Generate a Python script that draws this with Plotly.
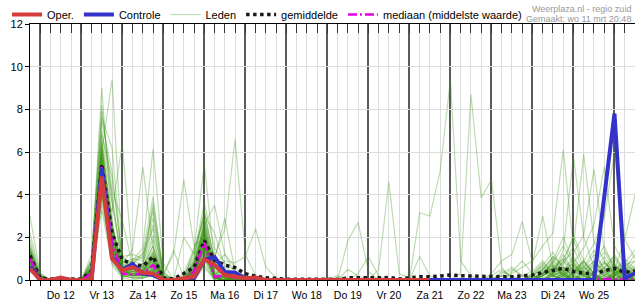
import pandas as pd
import plotly.graph_objects as go

# 6-hourly time steps, Wed 11 Mar 18:00 .. Thu 26 Mar 12:00
times = pd.date_range("2020-03-11 18:00", periods=60, freq="6h")

oper = [0.54,0,0,0.12,0,0,0, 4.85,1.0,0.46,0.6,0.34,0.3,
        0,0,0.08,0.15,0.97,0.7,0.23,0.15,0.08,0.12,
        0,0,0,0,0,0,0,0,0,0,0,0,0,0, 0,0,0]

controle = [0.62,0,0,0.05,0,0,0, 5.23,1.08,0.49,0.74,0.3,0.23,
            0,0,0,0.08,0.95,1.08,0.38,0.34,0.08,0.05,
            0,0,0,0,0,0,0,0,0,0,0,0,0,0,
            0,0,0,0,0,0,0,0,0,0,0,0,
            0,0,0,0,0,0,0,3.9,7.8,0.08,0.32]

gemiddelde = [1.15,0.08,0.05,0.05,0.05,0.05,0.4, 5.42,2.2,0.95,0.75,0.65,1.1,
              0.1,0.05,0.3,0.6,1.85,0.92,0.7,0.58,0.3,0.18,
              0.1,0.08,0.03,0.03,0.03,0.03,0.03,0.03,0.1,0.12,0.1,0.1,0.12,0.05,
              0.12,0.15,0.15,0.2,0.23,0.2,0.18,0.18,0.15,0.15,0.15,0.2,
              0.23,0.35,0.45,0.55,0.4,0.32,0.3,0.42,0.55,0.35,0.42]

mediaan = [1.0,0,0,0,0,0,0.3, 5.3,1.8,0.3,0.25,0.3,0.7,
           0,0,0.05,0.4,1.75,0.15,0.2,0.1,0.05,0,
           0,0,0,0,0,0,0,0,0,0,0,0,0,0,
           0,0,0,0,0,0,0,0,0,0,0,0,
           0,0,0,0,0,0,0.05,0.05,0.05,0,0]

leden = [
 [1.1,0.1,0,0,0,0,0.3, 5.2,1.8,0.3,0.2,0.3,0.8, 0,0,0,0.4,1.8,0.1,0.2,0,0,0, 0,0,0,0,0,0,0,0,0,0,0,0,0,0, 0,0,0,0,0,0,0,0,0,0,0,0, 0,0.1,0.3,0.6,0.2,0,0,0.1,0.4,0.2,0.1],
 [0.8,0,0,0,0,0,0.9, 9.0,2.5,0.6,0.2,0.4,1.2, 0,0,0,0.6,2.4,0.1,0,0.2,0,0, 0,0,0,0,0,0,0,0,0,0,0,0,0,0, 0,0,0,0,0,0,0,0,0,0.2,0,0, 0,0,0,0.3,0.8,0.2,0,0,0.3,0.6,0.2],
 [1.4,0.2,0,0,0,0,0.5, 6.0,9.4,1.2,0.3,0.2,0.6, 0,0,0,0.3,1.5,0.1,0,0,0,0, 0,0,0,0,0,0,0,0,0,0,0,0,0,0, 0,0,0,0,0,0,0,0,0,0,0,0, 0,0,0.2,0.5,1.1,0.3,0,0,0,0.2,0],
 [0.9,0,0,0,0,0,0.4, 4.6,3.2,6.4,0.8,0.2,0.5, 0,0,0,0.2,2.8,0.6,0.3,0,0,0, 0,0,0,0,0,0,0,0.2,0,0,0,0,0,0, 0,0,0,0,0,0,0,0,0,0,0,0, 0,0,0,0,0,0.4,0.9,0.3,0,0,0],
 [1.2,0.1,0,0,0,0,0.6, 5.8,2.2,0.8,1.4,5.3,1.5, 0.2,0,0,0.8,2.2,0.4,0.1,0,0,0, 0,0,0,0,0,0,0,0,0,0,0,0,0,0, 0,0,0,0,0,0,0,0,0,0,0,0, 0.1,0.3,0.7,0.2,0,0,0,0,0.2,0.5,0.3],
 [1.0,0,0,0,0,0,0.2, 4.2,1.2,0.4,0.9,1.5,6.15, 0.8,0,0,0.2,1.6,0.1,0,0,0,0, 0,0,0,0,0,0,0,0,0,0,0,0,0,0, 0,0,0,0,0,0,0,0,0,0,0,0, 0,0,0.2,0.4,0.1,0,0.3,0.8,0.4,0,0],
 [1.3,0.2,0,0,0,0,0.3, 5.5,1.9,0.5,0.2,0.3,0.9, 0.3,1.2,4.7,1.6,2.0,0.1,0.3,0.1,0,0, 0,0,0,0,0,0,0,0,0,0,0,0,0,0, 0,0,0,0,0,0,0,0,0,0,0,0, 0,0,0,0.2,0.6,0.2,0,0,0,0.1,0],
 [0.7,0,0,0,0,0,0.2, 6.2,2.6,0.3,0.5,0.4,1.1, 0,0,0.1,1.4,5.45,0.8,0.2,0,0,0, 0,0,0,0,0,0,0,0,0,0,0,0,0,0, 0,0,0,0,0,0,0,0,0,0,0,0, 0,0.2,0.5,0.2,0,0,0.1,0.4,1.0,0.3,0],
 [1.5,0.1,0,0,0,0,0.7, 4.0,1.4,0.2,0.6,0.3,0.4, 0,0,0,0.8,2.6,3.5,1.2,0.3,0,0, 0,0,0,0,0,0,0,0,0,0,0,0,0,0, 0,0,0,0,0,0,0,0,0,0,0,0, 0,0,0.3,1.2,0.4,0,0,0,0.2,0.6,0.2],
 [1.0,0,0,0,0,0,0.4, 5.0,2.0,0.5,0.4,0.3,0.9, 0,0,0,0.5,1.9,1.1,2.4,6.6,1.2,0.2, 0,0,0,0,0,0,0,0,0,0,0,0,0,0, 0,0,0,0,0,0,0,0,0,0,0,0, 0,0,0,0,0.3,0.7,0.2,0,0,0,0],
 [0.6,0,0,0,0,0,0.1, 4.8,1.5,0.3,0.3,0.2,0.5, 0,0,0,0.3,1.3,0.2,0.9,0.8,1.1,2.4, 0.6,0.1,0,0,0,0,0,0,0,0,0,0,0,0, 0,0,0,0,0,0,0,0,0,0,0,0, 0,0,0,0.1,0.4,0.9,0.3,0,0,0,0],
 [1.1,0,0,0,0,0,0.5, 5.6,2.1,0.6,0.2,0.4,1.3, 0,0,0,0.4,1.7,0.1,0,0,0,0, 0,0,0,0,0,0,0,0,1.85,2.7,0.4,0,0,0, 0,0,0,0,0,0,0,0,0,0,0,0, 0,0.2,0.6,0.3,0,0,0,0.3,0.7,0.2,0],
 [0.9,0.1,0,0,0,0,0.3, 6.5,2.8,0.4,0.7,0.5,1.0, 0,0,0,0.5,2.3,0.1,0,0,0,0, 0,0,0,0,0,0,0,0,0,0,0,0.5,4.6,0.3, 0.1,0,0,0,0,0,0,0,0,0,0,0, 0,0,0,0.2,0.5,0.1,0,0,0,0,0],
 [1.3,0.1,0,0,0,0,0.4, 5.1,1.7,0.5,0.6,0.6,1.4, 0,0,0,0.6,1.9,0.1,0.2,0,0,0, 0,0,0,0,0,0,0,0,0,0,0,0,0,0, 0,3.15,3.0,5.1,9.4,0.9,0.2,0,0,0,0,0, 0,0,0.2,0.4,0,0,0,0,0,0.3,0.1],
 [0.8,0,0,0,0,0,0.2, 4.4,1.1,0.2,0.3,0.2,0.4, 0,0,0,0.2,1.2,0.1,0,0,0,0, 0,0,0,0,0,0,0,0,0,0,0,0,0,0, 0,0,0,0,0,0.3,8.7,3.85,4.7,0.6,0,0, 0,0.3,0.8,0.2,0,0,0.4,1.1,0.3,0,0],
 [1.0,0.2,0,0,0,0,0.6, 5.9,2.4,0.7,0.4,0.5,1.2, 0.1,0,0.1,0.9,2.5,0.2,0.1,0,0,0, 0,0,0,0,0,0,0,0,0,0,0,0,0,0, 0,0,0,0,0,0,0,0,0.3,0.9,1.2,2.75, 0.8,3.0,0.6,0.2,0,0,0.3,0.6,0.2,0,0],
 [1.2,0.1,0,0,0,0,0.5, 5.4,1.6,0.2,0.5,0.3,0.7, 0,0,0,0.3,2.0,0.1,0,0,0,0, 0,0,0,0,0,0,0,0,0,0,0,0,0,0, 0,0,0,0,0,0,0,0,0,0,0.3,0.6, 0.9,1.6,2.2,6.1,1.5,0.4,0.2,0,0.3,0.8,0.4],
 [0.5,0,0,0,0,0,0.2, 4.7,1.3,0.3,0.2,0.2,0.4, 0,0,0,0.2,1.5,0.1,0.1,0,0,0, 0,0,0,0,0,0,0,0,0,0,0,0,0,0, 0,0,0,0,0,0,0,0,0,0,0,0.2, 0.4,0.9,0.3,1.4,5.8,2.0,0.6,0.2,0,0.5,1.2],
 [1.6,0.2,0,0,0,0,0.8, 6.0,2.3,0.6,0.8,0.6,1.6, 0,0,0,0.7,2.2,0.3,0.4,0,0,0, 0,0,0,0,0,0,0,0,0,0,0,0,0,0, 0,0,0,0,0,0,0,0,0,0.4,0.2,0, 0,0.5,1.1,0.7,1.6,5.9,1.8,0.9,0.2,0,0.6],
 [0.9,0,0,0,0,0,0.3, 5.3,1.8,0.4,0.3,0.3,0.8, 0,0,0,0.4,1.8,0.1,0,0,0,0, 0,0,0,0,0,0,0,0,0,0,0,0,0,0, 0,0,0,0,0,0,0,0,0,0,0,0, 0.3,0.7,0.2,0.9,1.3,2.1,5.2,1.4,0.7,0.2,0],
 [1.2,0,0,0,0,0,0.4, 5.7,2.0,0.5,0.5,0.4,1.0, 0,0,0,0.5,2.1,0.2,0.2,0,0,0, 0,0,0,0,0,0,0,0,0,0,0,0,0,0, 0,0,0,0,0,0,0,0,0,0.3,0.6,0.2, 0,0.2,0.9,0.4,0.8,1.5,2.6,5.3,1.6,0.7,0.9],
 [0.8,0.1,0,0,0,0,0.2, 4.9,1.6,0.3,0.4,0.3,0.6, 0,0,0,0.3,1.6,0.1,0,0,0,0, 0,0,0,0,0,0,0,0,0,0,0,0,0,0, 0,0,0,0,0,0,0,0,0,0,0,0, 0.2,0.5,1.1,0.6,0.3,0.9,1.7,2.9,6.0,1.9,1.0],
 [1.0,0,0,0,0,0,0.4, 5.2,1.9,0.4,0.6,0.4,0.9, 0,0,0,0.4,2.0,0.3,0.1,0,0,0, 0,0,0,0,0,0,0,0,0,0,0,0,0,0, 0,0,0,0,0,0,0,0,0.2,0.5,0.1,0, 0,0.3,0.6,1.0,0.4,0.2,0.8,1.3,0.5,1.9,4.0],
 [1.4,0.1,0,0,0,0,1.2, 7.4,5.1,0.9,0.6,0.7,3.6, 0.4,0,0,0.9,2.9,0.6,0.3,0.1,0,0, 0,0,0,0,0,0,0,0,0,0,0,0,0,0, 0,0,0,0,0,0,0,0,0,0,0,0, 0,0,0.4,0.9,0.3,0,0,0.2,0.5,0.1,0],
 [0.7,0,0,0,0,0,0.1, 3.6,0.9,0.2,0.1,0.1,0.3, 0,0,0,0.1,0.9,0,0,0,0,0, 0,0,0,0,0,0,0,0,0,0,0,0,0,0, 0,0,0,0,0,0,0,0,0,0,0,0, 0,0,0,0.2,0.7,0.3,0,0,0.2,0.4,0],
 [1.2,0.2,0,0,0,0,0.6, 6.6,3.6,0.7,0.9,1.2,2.4, 0.2,0,0.2,1.1,3.2,0.9,0.5,0.2,0,0, 0,0,0,0,0,0,0,0,0,0.3,1.1,0.2,0,0, 0,0,0,0,0,0,0,0,0,0,0,0, 0.2,0.6,0.2,0,0,0.4,0.9,0.4,0,0,0.3],
 [0.9,0,0,0,0,0,0.4, 5.0,1.5,0.3,0.2,0.2,0.6, 0,0,0,0.3,1.4,0.1,0,0,0,0, 0,0,0,0,0,0,0,0,0,0,0,0,0,0, 0,0,0,0,0,0,0,0,0,0,0,0, 0,0,0,0,0.2,0.6,1.4,0.5,0,0,0],
 [2.2,0.3,0,0,0,0,0.9, 7.9,4.2,2.8,0.7,1.3,3.9, 0.3,0,2.0,1.2,3.6,1.5,0.8,0.4,0.1,0, 0,0,0,0,0,0,0,0,0,0,0,0,0,0, 0,0,0,0,0,0,0,0,0,0,0,0, 0,0.3,0.8,1.6,0.7,0.2,0,0,0.4,0.9,0.3],
 [0.6,0,0,0,0,0,0.2, 4.3,1.2,0.1,0.3,0.2,0.5, 0,0,0,0.2,1.1,0.1,0,0,0,0, 0,0,0,0,0,0,0,0,0,0,0,0,0,0, 0,0,0,0,0,0,0,0,0,0,0,0, 0,0,0.1,0.3,0,0,0,0.5,1.2,0.4,0],
 [1.3,0.1,0,0,0,0,0.5, 6.1,2.5,0.8,0.5,0.8,2.1, 0.1,0,0,0.6,2.6,0.5,0.2,0,0,0, 0,0,0,0,0,0,0,0,0,0,0,0,0,0, 0,0,0,0,0,0,0,0,0,0,0.4,0.9, 0.3,0,0,0.2,0.6,0.2,0,0,0,0.3,0.7],
 [3.0,0.3,0,0,0,0,0.4, 5.4,1.7,0.4,0.3,0.5,1.1, 0,0,0,0.4,1.8,0.3,0.1,0,0,0, 0,0,0,0,0,0,0,0,0,0,0,0,0,0, 0,0,0,0,0,0,0,0,0,0,0,0, 0,0.4,1.0,0.4,0,0,0,0.2,0.6,0.2,0],
 [0.4,0,0,0,0,0,0.1, 3.9,0.8,0.2,0.1,0.1,0.2, 0,0,0,0.1,0.7,0,0,0,0,0, 0,0,0,0,0,0,0,0,0,0,0,0,0,0, 0,1.1,0.2,0,0,0,0,0,0,0,0,0, 0,0,0,0,0.3,0.8,0.3,0,0,0,0],
 [1.1,0,0,0,0,0,0.6, 6.8,4.8,1.1,1.2,1.0,3.2, 0.3,0,0.3,1.5,2.9,1.0,2.9,0.4,0.2,0, 0,0,0,0,0,0,0,0,0,0,0,0,0,0, 0,0,0,0,0,0,0,0,0,0,0,0, 0,0.2,0.5,1.0,1.9,0.6,0.2,0,0,0,0],
 [0.8,0,0,0,0,0,0.3, 4.5,1.4,0.3,0.2,0.2,0.4, 0,0,0,0.2,1.3,0.1,0,0,0,0, 0,0,0,0,0,0,0,0,0,0,0,0,0,0, 0,0,0,0,0,0,0,0,0,0,0,0, 0,0,0,0.4,1.0,0.4,0,0,0.3,0.6,0.2],
 [1.5,0.1,0,0,0,0,0.8, 7.0,4.0,0.6,0.9,0.7,2.6, 0.2,0,0,0.8,2.4,0.7,1.2,0.6,0.1,0, 0,0,0,0,0,0,0,0,0,0,0,0,0,0, 0,0,0,0,0,0,0,0,0,0,0,0, 0.1,0.3,0.2,0,0.4,0.9,0.3,0,0.2,0.5,0.1],
 [0.9,0,0,0,0,0,0.2, 5.3,1.6,0.2,0.4,0.3,0.7, 0,0,0,0.3,1.7,0.1,0,0,0,0, 0,0,0,0,0,0,0,0,0.5,0.2,0,0,0,0, 0,0,0,0,0,0,0,0,0,0,0,0, 0,0,0.3,0.6,0.2,0,0,0,0.4,1.0,0.5],
 [1.2,0.2,0,0,0,0,0.5, 5.9,2.2,0.5,0.6,0.5,1.3, 0,0,0,0.5,2.2,0.2,0.2,0,0,0, 0,0,0,0,0,0,0,0,0,0,0,0,0,0, 0,0,0,0,0,0,0,0,0,0,0,0, 0,0,0,0,0,0.2,0.7,1.6,0.5,0,0],
 [0.5,0,0,0,0,0,0.1, 4.1,1.0,0.2,0.1,0.1,0.3, 0,0,0,0.1,1.0,0,0,0,0,0, 0,0,0,0,0,0,0,0,0,0,0,0,0,0, 0,0,0,0,0,0,0,0,0,0,0,0, 0.2,0.5,0.2,0,0,0,0.3,0.8,0.3,0,0],
 [1.7,0.2,0,0,0,0,1.0, 8.2,3.7,1.0,0.8,1.1,3.4, 0.2,1.4,0.1,1.0,3.3,0.8,0.4,0.1,0,0, 0,0,0,0,0,0,0,0,0,0,0,0,0,0, 0,0,0,0,0,0,0,0,0,0,0,0, 0,0.3,0.9,2.0,0.8,0.2,0,0,0.2,0.8,1.4],
 [1.0,0,0,0,0,0,0.4, 5.0,1.7,0.4,0.3,0.3,0.8, 0,0,0,0.3,1.6,0.1,0.1,0,0,0, 0,0,0,0,0,0,0,0,0,0,0,0,0,0, 0,0,0,0,0,0,0,0,0,0,0,0, 0,0,0.2,0.5,0.2,0,0.4,0.9,0.3,0,0],
 [0.8,0.1,0,0,0,0,0.3, 4.6,1.3,0.3,0.4,0.4,1.0, 0,0,0,0.4,1.9,0.2,0,0,0,0, 0,0,0,0,0,0,0,0,0,0,0,0,0,0, 0,0,0,0,0,0,0,0,0,0,0,0, 0,0.4,0.2,0,0,0.3,0.6,0.2,0,0.4,0.9],
 [1.3,0,0,0,0,0,0.6, 6.3,2.6,0.6,0.7,0.6,1.9, 0,0,0,0.7,2.7,0.4,0.3,0.1,0,0, 0,0,0,0,0,0,0,0,0,0,0,0,0,0, 0,0,0,0,0,0,0,0,0,0,0,0, 0.2,0.7,1.3,0.5,0.2,0,0,0.3,0.7,0.3,0],
 [0.7,0,0,0,0,0,0.2, 3.3,0.7,0.1,0,0.1,0.2, 0,0,0,0,0.6,0,0,0,0,0, 0,0,0,0,0,0,0,0,0,0,0,0,0,0, 0,0,0,0,0,0,0,0,0,0,0,0, 0,0,0,0,0,0,0,0.2,0.5,0.2,0],
 [1.1,0.1,0,0,0,0,0.5, 5.7,2.1,0.5,0.6,0.4,1.0, 0,0,0,0.5,2.0,0.2,0.2,0,0,0, 0,0,0,0,0,0,0,0,0,0,0,0,0,0, 0,0,0,0,0,0,0,0,0,0.2,0.5,0.2, 0,0,0.3,0.8,2.1,0.9,0.3,0,0,0,0.2],
 [0.6,0,0,0,0,0,0.3, 4.8,1.5,0.3,0.2,0.2,0.5, 0,0,0,0.3,1.4,0.1,0,0,0,0, 0,0,0,0,0,0,0,0,0,0,0,0,0,0, 0,0,0,0,0,0,0,0,0,0,0,0, 0,0.2,0.4,0.1,0,0,0,0,0.3,0.7,0.3],
 [1.9,0.2,0,0,0,0,0.7, 7.6,6.2,0.8,1.0,0.9,2.9, 0.2,0,0.1,1.3,3.0,2.2,0.6,0.3,0,0, 0,0,0,0,0,0,0,0,0,0,0,0,0,0, 0,0,0,0,0,0,0,0,0,0,0,0, 0,0.2,0.6,0.3,0,0.5,1.2,0.5,0,0,0],
 [0.9,0,0,0,0,0,0.4, 5.5,1.8,0.4,0.4,0.3,0.7, 0,0,0,0.4,1.8,0.2,0.1,0,0,0, 0,0,0,0,0,0,0,0,0,0,0,0,0,0, 0,0,0,0,0,0,0,0,0,0,0,0, 0,0,0,0.3,0.9,0.3,0,0,0,0.2,0.6],
 [1.4,0.1,0,0,0,0,0.5, 6.4,2.4,0.6,0.5,0.6,1.6, 0,0,0,0.6,2.3,0.3,0.2,0,0,0, 0,0,0,0,0,0,0,0,0,0,0,0,0,0, 0,0,0,0,0,0,0,0,0,0,0,0, 0.3,0.8,0.3,0,0,0,0.2,0.6,1.1,0.4,0],
 [0.5,0,0,0,0,0,0.1, 4.0,1.1,0.2,0.2,0.2,0.4, 0,0,0,0.2,1.2,0,0,0,0,0, 0,0,0,0,0,0,0,0,0,0,0,0,0,0, 0,0,0,0,0,0,0,0,0,0,0,0, 0,0,0,0,0.3,0.6,0.2,0,0,0,0],
 [1.2,0.1,0,0,0,0,0.4, 5.6,2.0,0.4,0.5,0.4,1.1, 0,0,0,0.5,2.1,0.2,0.1,0,0,0, 0,0,0,0,0,0,0,0,0,0,0,0,0,0, 0,0,0,0,0,0,0,0,0,0,0,0, 0,0.3,0.7,0.3,0,0,0,0.4,0.8,0.2,0],
]

for k, m in enumerate(leden):
    if len(m) != len(times):
        raise ValueError(f"member {k} has {len(m)} values")

day_alias = {
    "Wed 11": "", "Thu 12": "Do 12", "Fri 13": "Vr 13", "Sat 14": "Za 14",
    "Sun 15": "Zo 15", "Mon 16": "Ma 16", "Tue 17": "Di 17", "Wed 18": "Wo 18",
    "Thu 19": "Do 19", "Fri 20": "Vr 20", "Sat 21": "Za 21", "Sun 22": "Zo 22",
    "Mon 23": "Ma 23", "Tue 24": "Di 24", "Wed 25": "Wo 25", "Thu 26": "",
}

FONT = "Liberation Sans, Arial, sans-serif"
x_range = ["2020-03-11 18:00", "2020-03-26 12:00"]

fig = go.Figure()

for k, m in enumerate(leden):
    fig.add_trace(go.Scatter(
        x=times, y=m, mode="lines", name="Leden",
        line=dict(color="rgba(60,150,20,0.34)", width=1.15),
        showlegend=(k == 0), legendrank=3, hoverinfo="skip"))

fig.add_trace(go.Scatter(
    x=times, y=gemiddelde, mode="lines", name="gemiddelde",
    line=dict(color="#1a1a1a", width=3.5, dash="dot"), legendrank=4))
fig.add_trace(go.Scatter(
    x=times, y=mediaan, mode="lines", name="mediaan (middelste waarde)",
    line=dict(color="#e600e6", width=2.5, dash="9px,3px,2px,3px"), legendrank=5))
fig.add_trace(go.Scatter(
    x=times, y=controle, mode="lines", name="Controle",
    line=dict(color="#3333cc", width=4), legendrank=2))
fig.add_trace(go.Scatter(
    x=times[:len(oper)], y=oper, mode="lines", name="Oper.",
    line=dict(color="#d43c3c", width=4), legendrank=1))
# helper trace so the top axis (ticks only) is drawn
fig.add_trace(go.Scatter(x=[times[0]], y=[None], xaxis="x2", showlegend=False,
                         hoverinfo="skip"))

fig.update_layout(
    width=635, height=300,
    margin=dict(l=30, r=0, t=20, b=20),
    paper_bgcolor="white", plot_bgcolor="white",
    font=dict(family=FONT, size=11, color="black"),
    hovermode=False,
    showlegend=True,
    legend=dict(orientation="h", x=-0.038, xanchor="left", y=1.038, yanchor="middle",
                font=dict(size=11, family=FONT), bgcolor="rgba(0,0,0,0)",
                borderwidth=0, tracegroupgap=0),
    xaxis=dict(
        type="date", range=x_range,
        tickmode="linear", tick0="2020-03-12", dtick=86400000,
        ticklabelmode="period", tickformat="%a %d", labelalias=day_alias,
        tickfont=dict(size=10.5, family=FONT),
        ticks="outside", ticklen=5, tickcolor="black",
        showgrid=True, gridcolor="#5a5a5a", gridwidth=1.5,
        minor=dict(dtick=21600000, tick0="2020-03-12", ticks="outside", ticklen=5,
                   tickcolor="black", showgrid=True, gridcolor="#dddddd", gridwidth=1),
        showline=True, linecolor="black", linewidth=1, zeroline=False,
    ),
    xaxis2=dict(
        type="date", range=x_range, overlaying="x", side="top", anchor="y",
        tickmode="linear", tick0="2020-03-12", dtick=21600000,
        ticks="inside", ticklen=9, tickcolor="#333333",
        showticklabels=False, showgrid=False,
        showline=True, linecolor="black", linewidth=1, zeroline=False,
    ),
    yaxis=dict(
        range=[0, 12], tickmode="linear", tick0=0, dtick=2,
        tickfont=dict(size=11, family=FONT),
        ticks="outside", ticklen=4, tickcolor="black",
        showgrid=True, gridcolor="#dddddd", gridwidth=1,
        showline=True, linecolor="black", linewidth=1, zeroline=False,
    ),
    annotations=[
        dict(text="Weerplaza.nl - regio zuid", xref="paper", yref="paper",
             x=1, y=1 + 15 / 260, xanchor="right", yanchor="middle", xshift=-2,
             showarrow=False, font=dict(size=9, color="#999999", family=FONT)),
        dict(text="Gemaakt: wo 11 mrt 20:48", xref="paper", yref="paper",
             x=1, y=1 + 5 / 260, xanchor="right", yanchor="middle", xshift=-2,
             showarrow=False, font=dict(size=9, color="#999999", family=FONT)),
    ],
)

fig.write_html("out.html")
